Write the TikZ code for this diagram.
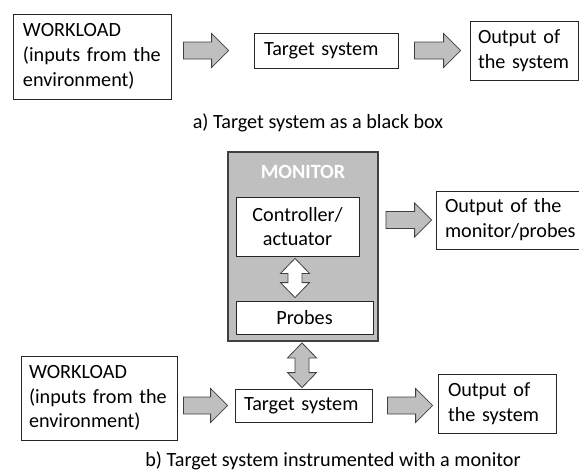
\documentclass[tikz,border=0pt]{standalone}
\usepackage{fontspec}
\setmainfont{Carlito}
\usetikzlibrary{calc}
\definecolor{shade}{RGB}{191,191,191}
\definecolor{edge}{RGB}{64,64,64}
\tikzset{
  txt/.style={font=\fontsize{20.2}{24.8}\selectfont},
  box/.style={txt, draw=black!85, fill=white, line width=0.8pt, inner sep=0pt},
  leftbox/.style={box, align=left},
  midbox/.style={box, align=center},
  monbox/.style={draw=edge, fill=shade, line width=1.8pt, inner sep=0pt},
  grayarrow/.style={draw=edge, fill=shade, line width=0.8pt, line join=miter},
  whitearrow/.style={draw=edge, fill=white, line width=0.8pt, line join=miter},
}
% horizontal block arrow: tail point, tip point (same height)
\newcommand\blockright[2]{%
  \draw[grayarrow] let \p1=#1, \p2=#2 in
    (\x1,\y1+8.5pt) -- (\x2-17pt,\y1+8.5pt) -- (\x2-17pt,\y1+17pt) -- (\x2,\y1)
    -- (\x2-17pt,\y1-17pt) -- (\x2-17pt,\y1-8.5pt) -- (\x1,\y1-8.5pt) -- cycle;}
% vertical double-headed block arrow: style, top tip, bottom tip
\newcommand\blockupdown[3]{%
  \draw[#1] let \p1=#2, \p2=#3 in
    (\x1,\y1) -- (\x1+14.5pt,\y1-15pt) -- (\x1+7pt,\y1-15pt) -- (\x1+7pt,\y2+15pt)
    -- (\x1+14.5pt,\y2+15pt) -- (\x1,\y2) -- (\x1-14.5pt,\y2+15pt) -- (\x1-7pt,\y2+15pt)
    -- (\x1-7pt,\y1-15pt) -- (\x1-14.5pt,\y1-15pt) -- cycle;}
\hyphenpenalty=10000
\exhyphenpenalty=10000
\begin{document}
\begin{tikzpicture}[x=1pt,y=-1pt]
\useasboundingbox (0,0) rectangle (579,471);

% ---- a) black box view ----
\node[leftbox, inner xsep=10pt, text width=138pt, minimum height=85pt] (wlA) at (92,56.5)
  {WORKLOAD\\(inputs from the\\environment)};
\node[leftbox, inner xsep=10pt, text width=124pt, minimum height=35pt] (tgA) at (326,50.5)
  {Target system};
\node[leftbox, inner xsep=8pt, text width=92pt, minimum height=59pt] (outA) at (524,50.5)
  {Output of\\the system};
\node[txt] (capA) at (318,123) {a) Target system as a black box};

\blockright{($(wlA.east|-tgA.west)+(12,0)$)}{($(tgA.west)+(-25,0)$)}
\blockright{($(tgA.east)+(16,0)$)}{($(outA.west)+(-9,0)$)}

% ---- b) instrumented view ----
\node[monbox, minimum width=150pt, minimum height=189pt] (mon) at (303,246.5) {};
\node[txt, text=white, font=\fontsize{20.2}{24.8}\selectfont\bfseries] (monlbl)
  at ($(mon.north)+(0,21)$) {MONITOR};
\node[midbox, minimum width=123pt, minimum height=59pt] (ctrl) at (297.5,226.5)
  {Controller/\\actuator};
\node[midbox, minimum width=137pt, minimum height=33pt] (probes) at (304.5,317.5)
  {Probes};
\node[leftbox, inner xsep=9pt, text width=125pt, minimum height=58pt] (outM) at (507.5,220)
  {Output of the\\monitor/probes};

\node[leftbox, inner xsep=8pt, text width=140pt, minimum height=84pt] (wlB) at (99,398)
  {WORKLOAD\\(inputs from the\\environment)};
\node[leftbox, inner xsep=9pt, text width=119pt, minimum height=33pt] (tgB) at (303.5,405.5)
  {Target system};
\node[leftbox, inner xsep=10pt, text width=98pt, minimum height=59pt] (outB) at (497,403.5)
  {Output of\\the system};
\node[txt] (capB) at (333,461) {b) Target system instrumented with a monitor};

\blockright{($(mon.east|-outM.west)+(7,0)$)}{($(outM.west)+(-4,0)$)}
\blockright{($(wlB.east|-tgB.west)+(6,0)$)}{($(tgB.west)+(-7,0)$)}
\blockright{($(tgB.east)+(15,0)$)}{($(outB.west)+(-5,0)$)}

\blockupdown{whitearrow}{($(ctrl.south)+(-2.5,2)$)}{($(ctrl.south|-probes.north)+(-2.5,-3)$)}
\blockupdown{grayarrow}{($(mon.south)+(-1,1)$)}{($(mon.south|-tgB.north)+(-1,-1)$)}
\end{tikzpicture}
\end{document}
